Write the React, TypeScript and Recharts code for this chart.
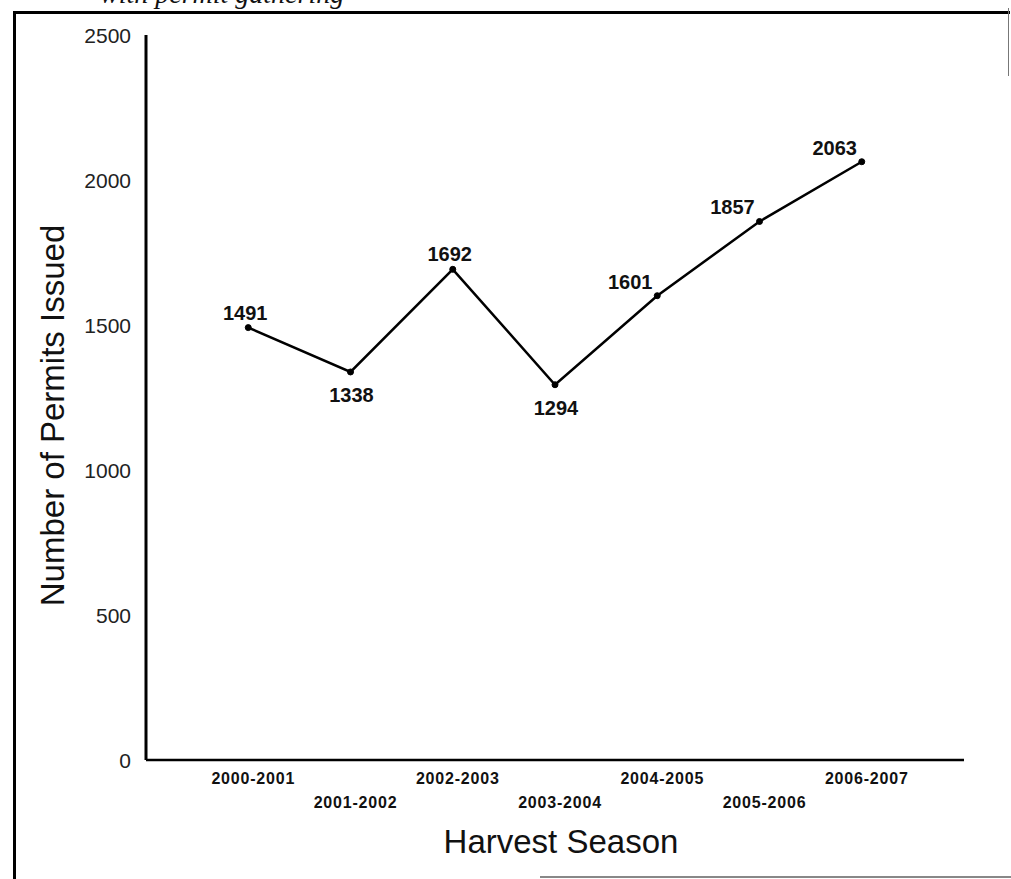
import { LineChart, Line, XAxis, YAxis, LabelList } from "recharts";

const seasons = [
  "2000-2001",
  "2001-2002",
  "2002-2003",
  "2003-2004",
  "2004-2005",
  "2005-2006",
  "2006-2007",
];
const permits = [1491, 1338, 1692, 1294, 1601, 1857, 2063];
const yTicks = [0, 500, 1000, 1500, 2000, 2500];
// where each value label sits relative to its point
const labelSpots = ["above", "below", "above", "below", "left", "left", "left"];

const data = seasons.map((s, i) => ({ pos: i + 1, season: s, permits: permits[i] }));
const xTicks = data.map((d) => d.pos);

const font = "'Liberation Sans', Arial, sans-serif";

const SeasonTick = (props: any) => {
  const { x, y, payload } = props;
  const i = payload.value - 1;
  const row = i % 2 === 0 ? 24 : 48;
  return (
    <text
      x={x + 5}
      y={y + row}
      textAnchor="middle"
      fontFamily={font}
      fontSize={16}
      fontWeight="bold"
      letterSpacing={0.8}
      fill="#111"
    >
      {seasons[i]}
    </text>
  );
};

const CountTick = (props: any) => {
  const { x, y, payload } = props;
  return (
    <text x={x} y={y} dy="0.36em" textAnchor="end" fontFamily={font} fontSize={21} fill="#222">
      {payload.value}
    </text>
  );
};

const ValueLabel = (props: any) => {
  const { x, y, value, index } = props;
  const spot = labelSpots[index];
  let dx = -3;
  let dy = -8;
  if (spot === "below") {
    dx = 1;
    dy = 30;
  } else if (spot === "left") {
    dx = -27;
    dy = -7;
  }
  return (
    <text
      x={x + dx}
      y={y + dy}
      textAnchor="middle"
      fontFamily={font}
      fontSize={20}
      fontWeight="bold"
      fill="#111"
    >
      {value}
    </text>
  );
};

const YTitle = (props: any) => {
  const { viewBox } = props;
  const cx = 64;
  const cy = viewBox.y + viewBox.height / 2 + 18;
  return (
    <text
      x={cx}
      y={cy}
      transform={`rotate(-90, ${cx}, ${cy})`}
      textAnchor="middle"
      fontFamily={font}
      fontSize={33}
      fill="#111"
    >
      Number of Permits Issued
    </text>
  );
};

const XTitle = (props: any) => {
  const { viewBox } = props;
  return (
    <text
      x={viewBox.x + viewBox.width / 2 + 6}
      y={853}
      textAnchor="middle"
      fontFamily={font}
      fontSize={33}
      fill="#111"
    >
      Harvest Season
    </text>
  );
};

export default function App() {
  return (
    <div
      style={{
        position: "absolute",
        left: 0,
        top: 0,
        width: 1011,
        height: 879,
        overflow: "hidden",
        background: "#fff",
      }}
    >
      {/* scan leftovers: caption cut at the top and the frame */}
      <div
        style={{
          position: "absolute",
          left: 100,
          top: -22,
          fontFamily: "'Liberation Serif', serif",
          fontStyle: "italic",
          fontSize: 28,
          color: "#111",
          whiteSpace: "nowrap",
        }}
      >
        with permit gathering
      </div>
      <div style={{ position: "absolute", left: 13, top: 11, width: 997, height: 3, background: "#000" }} />
      <div style={{ position: "absolute", left: 13, top: 11, width: 3, height: 868, background: "#000" }} />
      <div style={{ position: "absolute", left: 1008, top: 8, width: 1, height: 68, background: "#777" }} />
      <div style={{ position: "absolute", left: 540, top: 876, width: 471, height: 2, background: "#888" }} />

      <LineChart
        width={1011}
        height={879}
        data={data}
        margin={{ top: 35, right: 47, left: 86, bottom: 89 }}
        style={{ position: "absolute", left: 0, top: 0 }}
      >
        <XAxis
          dataKey="pos"
          type="number"
          domain={[0, 8]}
          ticks={xTicks}
          height={30}
          axisLine={{ stroke: "#000", strokeWidth: 2.5 }}
          tickLine={false}
          tickSize={0}
          tickMargin={0}
          tick={<SeasonTick />}
          interval={0}
          label={<XTitle />}
        />
        <YAxis
          domain={[0, 2500]}
          ticks={yTicks}
          width={60}
          axisLine={{ stroke: "#000", strokeWidth: 3 }}
          tickLine={false}
          tickSize={0}
          tickMargin={15}
          tick={<CountTick />}
          interval={0}
          label={<YTitle />}
        />
        <Line
          type="linear"
          dataKey="permits"
          stroke="#000"
          strokeWidth={2.5}
          dot={{ r: 3, fill: "#000", stroke: "#000", strokeWidth: 1 }}
          isAnimationActive={false}
        >
          <LabelList dataKey="permits" content={<ValueLabel />} />
        </Line>
      </LineChart>
    </div>
  );
}
